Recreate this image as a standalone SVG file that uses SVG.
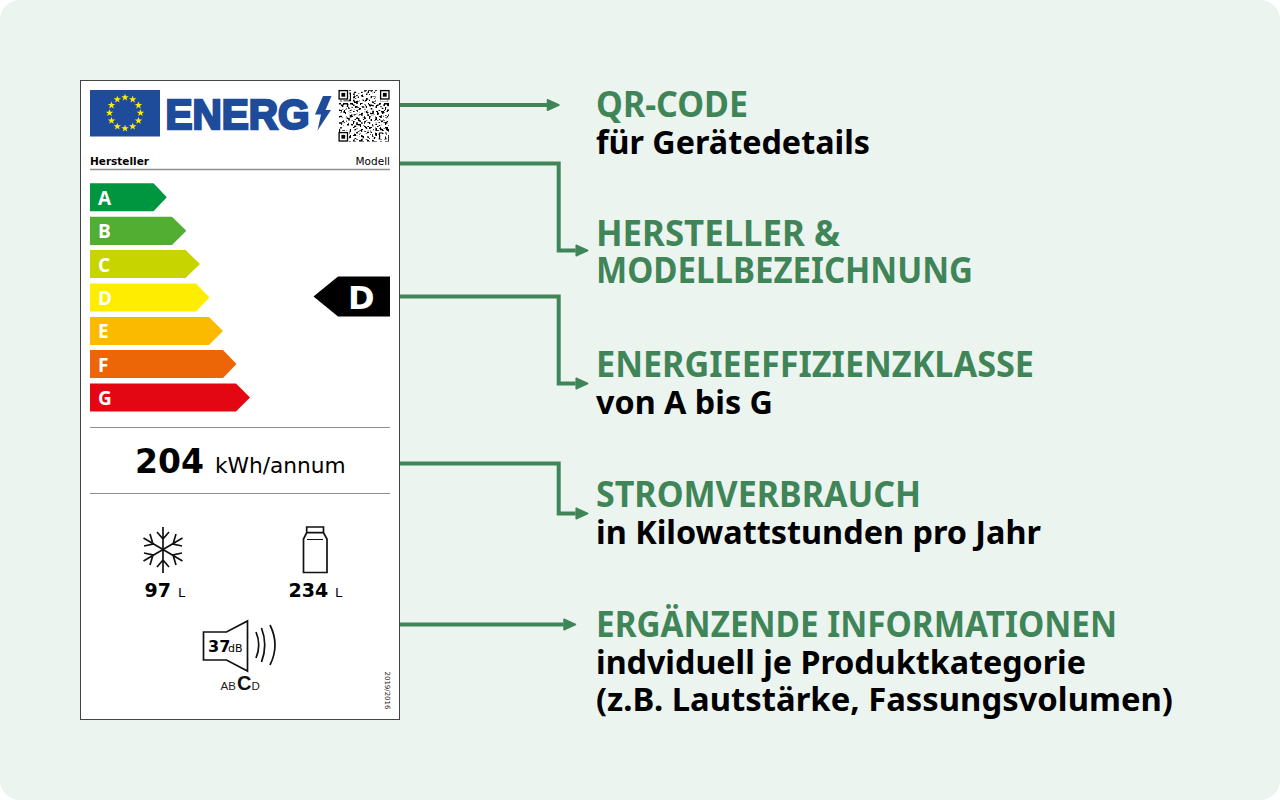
<svg xmlns="http://www.w3.org/2000/svg" xmlns:xlink="http://www.w3.org/1999/xlink" width="1280" height="800" viewBox="0 0 1280 800">
<style>
.h{font-family:"Noto Sans","Open Sans",sans-serif;font-weight:700;font-size:35px;fill:#3f8558}
.s{font-family:"Noto Sans","Open Sans",sans-serif;font-weight:700;font-size:33px;fill:#000}
.d{font-family:"DejaVu Sans",sans-serif;fill:#000}
.b{font-weight:700}
.l{font-family:"Open Sans",sans-serif;font-weight:700;font-size:19px;fill:#fff}
.rule{stroke:#8e8e8e;stroke-width:1}
.ic{fill:none;stroke:#111;stroke-width:1.7}
.c{fill:none;stroke:#3f8558;stroke-width:4}
</style>
<defs>
<polygon id="star" points="0,-3.8 1,-1.2 3.7,-1.2 1.5,.5 2.3,3.1 0,1.6 -2.3,3.1 -1.5,.5 -3.7,-1.2 -1,-1.2" fill="#ffed00"/>
<marker id="ah" markerUnits="userSpaceOnUse" markerWidth="15" markerHeight="15" refX="1" refY="7.500" orient="auto"><path d="M1.500 2.200 L13 7.500 L1.500 12.800 Z" fill="#3f8558" stroke="#3f8558" stroke-width="1.500" stroke-linejoin="round"/></marker>
<filter id="soft" x="-5%" y="-5%" width="110%" height="110%"><feGaussianBlur stdDeviation="0.35"/></filter>
<path id="qrdata" fill="none" stroke-width="1.6" d="M339 91h1.6 M364 91h3M368 91h5M375 91h2M341 91h10M339 92.6h1.6M349.4 92.6h1.6M354 92.6h3M360 92.6h4M367 92.6h2M372 92.6h3M379 92.6h10M339 94.2h1.6M342.2 94.2h5M349.4 94.2h1.6M353 94.2h2M358 94.2h5M366 94.2h4M373 94.2h2M379 94.2h1.6M387.4 94.2h1.6M339 95.8h1.6M342.2 95.8h5M349.4 95.8h1.6M354 95.8h4M361 95.8h2M365 95.8h3M371 95.8h5M379 95.8h1.6M382 95.8h5M387.4 95.8h1.6M339 97.4h1.6M342.2 97.4h5M349.4 97.4h1.6M353 97.4h2M357 97.4h2M362 97.4h5M370 97.4h2M375 97.4h2M379 97.4h1.6M382 97.4h5M387.4 97.4h1.6M339 99h1.6M349.4 99h1.6M355 99h4M361 99h2M366 99h2M371 99h4M379 99h1.6M382 99h5M387.4 99h1.6M339 100.6h12M353 100.6h2M356 100.6h2M359 100.6h2M362 100.6h2M365 100.6h2M368 100.6h2M371 100.6h2M374 100.6h2M379 100.6h1.6M387.4 100.6h1.6M354 102.2h5M363 102.2h2M369 102.2h5M379 102.2h10M339 103.8h2M343 103.8h5M350 103.8h3M356 103.8h2M360 103.8h5M368 103.8h2M373 103.8h3M379 103.8h2M384 103.8h5M341 105.4h3M347 105.4h2M352 105.4h5M360 105.4h2M365 105.4h2M369 105.4h5M376 105.4h4M383 105.4h2M387 105.4h2M339 107h5M346 107h3M351 107h2M355 107h4M362 107h5M370 107h2M374 107h3M380 107h2M385 107h3M342 108.6h2M346 108.6h5M354 108.6h2M359 108.6h2M364 108.6h3M369 108.6h5M376 108.6h2M381 108.6h5M339 110.2h3M344 110.2h2M349 110.2h3M355 110.2h5M362 110.2h2M367 110.2h3M372 110.2h2M377 110.2h5M384 110.2h2M387 110.2h2M341 111.8h5M348 111.8h2M353 111.8h2M357 111.8h3M364 111.8h5M371 111.8h3M376 111.8h2M381 111.8h3M386 111.8h2M339 113.4h2M343 113.4h3M349 113.4h5M356 113.4h2M361 113.4h2M366 113.4h2M370 113.4h5M377 113.4h2M382 113.4h5M342 115h5M350 115h2M354 115h3M359 115h5M367 115h2M372 115h2M376 115h3M381 115h2M385 115h4M339 116.6h3M345 116.6h2M349 116.6h5M357 116.6h2M362 116.6h3M368 116.6h5M375 116.6h2M379 116.6h5M387 116.6h2M341 118.2h2M345 118.2h5M352 118.2h2M356 118.2h5M364 118.2h2M368 118.2h2M372 118.2h5M380 118.2h3M385 118.2h2M339 119.8h5M347 119.8h3M353 119.8h3M358 119.8h2M363 119.8h5M370 119.8h2M375 119.8h2M379 119.8h2M383 119.8h5M342 121.4h2M346 121.4h2M350 121.4h5M358 121.4h3M364 121.4h2M369 121.4h3M374 121.4h5M381 121.4h2M385 121.4h3M339 123h3M344 123h5M352 123h2M356 123h2M360 123h5M367 123h3M373 123h2M377 123h3M382 123h5M341 124.6h3M347 124.6h2M351 124.6h3M356 124.6h5M363 124.6h2M368 124.6h5M375 124.6h2M379 124.6h3M384 124.6h2M387 124.6h2M354 126.2h3M360 126.2h2M364 126.2h5M372 126.2h2M376 126.2h5M384 126.2h3M339 127.8h12M353 127.8h2M358 127.8h4M365 127.8h2M369 127.8h3M375 127.8h2M379 127.8h2M383 127.8h5M339 129.4h1.6M349.4 129.4h1.6M354 129.4h4M361 129.4h2M366 129.4h5M373 129.4h4M380 129.4h3M386 129.4h3M339 131h1.6M342.2 131h5M349.4 131h1.6M353 131h2M357 131h5M364 131h2M369 131h2M374 131h5M382 131h2M387 131h2M339 132.6h1.6M342.2 132.6h5M349.4 132.6h1.6M355 132.6h3M360 132.6h4M367 132.6h5M375 132.6h2M379 132.6h4M385 132.6h3M339 134.2h1.6M342.2 134.2h5M349.4 134.2h1.6M354 134.2h2M358 134.2h2M362 134.2h5M370 134.2h3M375 134.2h5M382 134.2h2M386 134.2h2M339 135.8h1.6M349.4 135.8h1.6M353 135.8h5M361 135.8h3M366 135.8h2M371 135.8h2M375 135.8h2M379 135.8h5M387 135.8h2M339 137.4h12M355 137.4h2M359 137.4h5M366 137.4h3M372 137.4h5M379 137.4h2M383 137.4h3M388 137.4h1M354 139h4M361 139h2M365 139h5M373 139h2M377 139h5M384 139h5M339 140.600h12M353 140.600h3M359 140.600h5M367 140.600h3M372 140.600h5M380 140.600h2M385 140.600h4"/>
<g id="finder"><rect x="0" y="0" width="10.500" height="10.500" fill="#fff"/><rect x=".6" y=".6" width="8.400" height="8.400" fill="none" stroke="#000" stroke-width="1.300"/><rect x="2.900" y="2.900" width="3.800" height="3.800" fill="#000"/></g>
</defs>
<rect width="1280" height="800" rx="20" fill="#ecf4f0"/>
<g id="label">
<rect x="80.500" y="80.500" width="319" height="639" fill="#fff" stroke="#444" stroke-width="1"/>
<g id="flag"><rect x="90" y="90" width="70" height="46.500" fill="#1e4c9b"/>
<use xlink:href="#star" x="125" y="97.500"/><use xlink:href="#star" x="132.700" y="99.500"/><use xlink:href="#star" x="138.500" y="105.300"/><use xlink:href="#star" x="140.500" y="113"/><use xlink:href="#star" x="138.500" y="120.700"/><use xlink:href="#star" x="132.700" y="126.500"/><use xlink:href="#star" x="125" y="128.500"/><use xlink:href="#star" x="117.300" y="126.500"/><use xlink:href="#star" x="111.500" y="120.700"/><use xlink:href="#star" x="109.500" y="113"/><use xlink:href="#star" x="111.500" y="105.300"/><use xlink:href="#star" x="117.300" y="99.500"/>
</g>
<text x="165.500" y="128.500" font-family="Liberation Sans,sans-serif" font-weight="700" font-size="43" fill="#1e4c9b" stroke="#1e4c9b" stroke-width="2.600" textLength="144" lengthAdjust="spacingAndGlyphs">ENERG</text>
<polygon points="323,96 331.500,96 325.500,110 331,110 317.500,130.500 321,114.500 315,114.500" fill="#1e4c9b"/>
<g id="qr" filter="url(#soft)">
<use xlink:href="#qrdata" stroke="#000"/>
<use xlink:href="#qrdata" stroke="#fff" style="stroke-width:.35" transform="rotate(90 364 116)"/>
<use xlink:href="#finder" x="338.500" y="90"/><use xlink:href="#finder" x="380" y="90"/><use xlink:href="#finder" x="338.500" y="132"/>
</g>
<text class="d b" x="90" y="165" font-size="10.500">Hersteller</text>
<text class="d" x="390" y="165" font-size="10.500" text-anchor="end" fill="#222">Modell</text>
<line class="rule" x1="90" y1="169.500" x2="390" y2="169.500" style="stroke-width:1.500"/>
<g id="scale">
<polygon points="90,183.300 153.500,183.300 166.800,197.300 153.500,211.300 90,211.300" fill="#009640"/>
<polygon points="90,216.700 172,216.700 186.300,230.700 172,245 90,245" fill="#52ae32"/>
<polygon points="90,250 185.500,250 200,264 185.500,278 90,278" fill="#c8d400"/>
<polygon points="90,283.500 196,283.500 209.500,297.500 196,311.500 90,311.500" fill="#ffed00"/>
<polygon points="90,317 209,317 223,331 209,345 90,345" fill="#fbba00"/>
<polygon points="90,350 223,350 236.500,364 223,378 90,378" fill="#ec6608"/>
<polygon points="90,383.500 236,383.500 250,397.500 236,411.500 90,411.500" fill="#e30613"/>
<text class="l" x="98" y="204.500">A</text><text class="l" x="98" y="238">B</text><text class="l" x="98" y="271.500">C</text><text class="l" x="98" y="304.500">D</text><text class="l" x="98" y="338">E</text><text class="l" x="98" y="371.500">F</text><text class="l" x="98" y="404.500">G</text>
</g>
<polygon points="313.500,296.500 338,276.500 390,276.500 390,316.500 338,316.500" fill="#000"/>
<text class="d b" x="348" y="308.500" font-size="32" style="fill:#fff">D</text>
<line class="rule" x1="90" y1="427.500" x2="390" y2="427.500"/>
<text class="d b" x="135" y="473" font-size="33">204</text>
<text class="d" x="215" y="473" font-size="21.700" fill="#222">kWh/annum</text>
<line class="rule" x1="90" y1="493.500" x2="390" y2="493.500"/>
<g id="freezer" class="ic">
<path d="M163 527V573M143.500 538L182.500 561M143.500 561L182.500 538M157 532L163 539L169 532M157 567L163 560L169 567M144 546L153 544L150 534M176 534L173 544L182 546M144 553L153 555L150 565M182 553L173 555L176 565"/>
</g>
<text class="d b" x="144.500" y="597" font-size="19">97</text>
<text class="d" x="178" y="597" font-size="13">L</text>
<g id="fridge" class="ic">
<path d="M303.500 572.500H327V539L323.500 532.700V527H306.700V532.700L303.500 539ZM306.700 532.700H323.500"/>
<path d="M307 539.500H323" stroke-width="1"/>
</g>
<text class="d b" x="288.500" y="597" font-size="19">234</text>
<text class="d" x="335" y="597" font-size="13">L</text>
<g id="speaker" class="ic">
<path d="M203.500 632H226.500L247.500 621V671L226.500 660H203.500Z"/>
<path d="M256 632Q261.500 645 256 658M261.500 628Q268 645 261.500 662M270 625Q280 645 270 665"/>
</g>
<text class="d b" x="208" y="652" font-size="16">37</text>
<text class="d" x="228" y="652" font-size="11">dB</text>
<text font-family="Liberation Sans,sans-serif" font-size="11.500" x="220.500" y="690" fill="#222">AB</text>
<text font-family="Liberation Sans,sans-serif" font-weight="700" font-size="20" x="237" y="690" fill="#111">C</text>
<text font-family="Liberation Sans,sans-serif" font-size="11.500" x="251.500" y="690" fill="#222">D</text>
<text font-family="DejaVu Sans,sans-serif" font-size="7" transform="translate(384.500,671.500) rotate(90)" fill="#222" textLength="38">2019/2016</text>
</g>
<g id="connectors">
<path class="c" marker-end="url(#ah)" d="M400 105H547"/>
<path class="c" marker-end="url(#ah)" d="M400 163.500H558.700V250.500H575.700"/>
<path class="c" marker-end="url(#ah)" d="M400 296.500H558.700V383.500H575.700"/>
<path class="c" marker-end="url(#ah)" d="M400 463.500H558.700V513.500H575.700"/>
<path class="c" marker-end="url(#ah)" d="M400 624.500H563.500"/>
</g>
<g id="t1"><text class="h" x="596" y="116.500" textLength="152" lengthAdjust="spacingAndGlyphs">QR-CODE</text><text class="s" x="596" y="153.500" textLength="274" lengthAdjust="spacingAndGlyphs">für Gerätedetails</text></g>
<g id="t2"><text class="h" x="596" y="246" textLength="244" lengthAdjust="spacingAndGlyphs">HERSTELLER &amp;</text><text class="h" x="596" y="283" textLength="377" lengthAdjust="spacingAndGlyphs">MODELLBEZEICHNUNG</text></g>
<g id="t3"><text class="h" x="596" y="376.500" textLength="438" lengthAdjust="spacingAndGlyphs">ENERGIEEFFIZIENZKLASSE</text><text class="s" x="596" y="413.500" textLength="177" lengthAdjust="spacingAndGlyphs">von A bis G</text></g>
<g id="t4"><text class="h" x="596" y="506.500" textLength="325" lengthAdjust="spacingAndGlyphs">STROMVERBRAUCH</text><text class="s" x="596" y="543.500" textLength="445" lengthAdjust="spacingAndGlyphs">in Kilowattstunden pro Jahr</text></g>
<g id="t5"><text class="h" x="596" y="636.500" textLength="521" lengthAdjust="spacingAndGlyphs">ERGÄNZENDE INFORMATIONEN</text><text class="s" x="596" y="674" textLength="490" lengthAdjust="spacingAndGlyphs">indviduell je Produktkategorie</text><text class="s" x="596" y="711" textLength="577" lengthAdjust="spacingAndGlyphs">(z.B. Lautstärke, Fassungsvolumen)</text></g>
</svg>
